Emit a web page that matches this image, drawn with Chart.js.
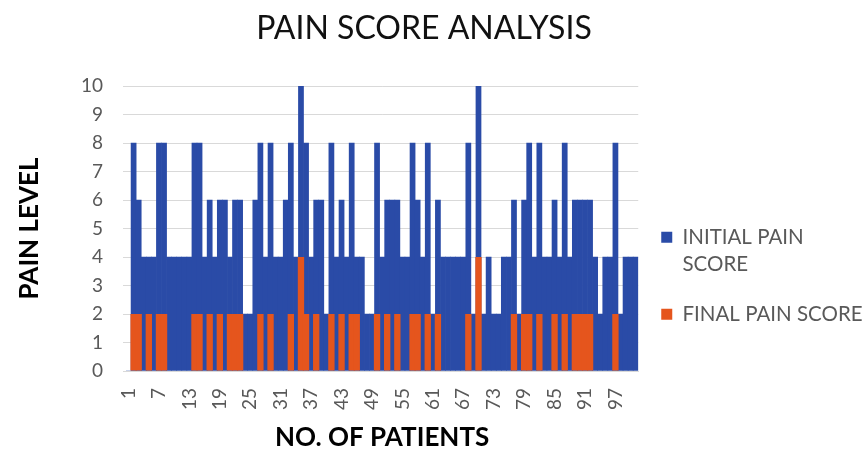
<!DOCTYPE html>
<html>
<head>
<meta charset="utf-8">
<script src="https://cdn.jsdelivr.net/npm/chart.js@4.4.1/dist/chart.umd.min.js"></script>
<style>
  html, body { margin: 0; padding: 0; background: #ffffff; }
  #wrap { width: 862px; height: 453px; }
</style>
</head>
<body>
<div id="wrap"><canvas id="chart" width="862" height="453"></canvas></div>
<script>
// Patient numbers along the category axis
const patients = [
  '1','2','3','4','5','6','7','8','9','10','11','12','13','14','15','16','17','18','19','20',
  '21','22','23','24','25','26','27','28','29','30','31','32','33','34','35','36','37','38','39','40',
  '41','42','43','44','45','46','47','48','49','50','51','52','53','54','55','56','57','58','59','60',
  '61','62','63','64','65','66','67','68','69','70','71','72','73','74','75','76','77','78','79','80',
  '81','82','83','84','85','86','87','88','89','90','91','92','93','94','95','96','97','98','99','100','101'
];

// Patient numbers that get a printed label
const tickLabels = ['1','7','13','19','25','31','37','43','49','55','61','67','73','79','85','91','97'];

// Pain level before treatment
const initialScore = [
  0, 8, 6, 4, 4, 4, 8, 8, 4, 4,
  4, 4, 4, 8, 8, 4, 6, 4, 6, 6,
  4, 6, 6, 2, 2, 6, 8, 4, 8, 4,
  4, 6, 8, 4, 10, 8, 4, 6, 6, 2,
  8, 4, 6, 4, 8, 4, 4, 2, 2, 8,
  4, 6, 6, 6, 4, 4, 8, 6, 4, 8,
  2, 6, 4, 4, 4, 4, 4, 8, 2, 10,
  2, 4, 2, 2, 4, 4, 6, 2, 6, 8,
  4, 8, 4, 4, 6, 4, 8, 4, 6, 6,
  6, 6, 4, 2, 4, 4, 8, 2, 4, 4,
  4
];

// Pain level after treatment
const finalScore = [
  0, 2, 2, 0, 2, 0, 2, 2, 0, 0,
  0, 0, 0, 2, 2, 0, 2, 0, 2, 0,
  2, 2, 2, 0, 0, 0, 2, 0, 2, 0,
  0, 0, 2, 0, 4, 2, 0, 2, 0, 0,
  2, 0, 2, 0, 2, 2, 0, 0, 0, 2,
  0, 2, 0, 2, 0, 0, 2, 2, 0, 2,
  0, 2, 0, 0, 0, 0, 0, 2, 0, 4,
  0, 0, 0, 0, 0, 0, 2, 0, 2, 2,
  0, 2, 0, 0, 2, 0, 2, 0, 2, 2,
  2, 2, 0, 0, 0, 0, 2, 0, 0, 0,
  0
];

const seriesNames = ['INITIAL PAIN SCORE', 'FINAL PAIN SCORE'];
const legendLines = [['INITIAL PAIN', 'SCORE'], 'FINAL PAIN SCORE'];

const BLUE = '#2A4BA7';
const ORANGE = '#E5551D';
const GRID = '#D9D9D9';
const LABEL = '#595959';
const FONT = 'Lato, "Open Sans", sans-serif';

// Title centred a little left of the canvas middle; legend text allowed to run to the canvas edge
const layoutTweaks = {
  id: 'layoutTweaks',
  afterLayout(chart) {
    if (chart.titleBlock) {
      chart.titleBlock.right = chart.titleBlock.left + 848;
    }
    if (chart.legend) {
      chart.legend.right = chart.width;
    }
  }
};

new Chart(document.getElementById('chart'), {
  type: 'bar',
  data: {
    labels: patients,
    datasets: [
      {
        label: seriesNames[0],
        data: initialScore,
        backgroundColor: BLUE,
        borderWidth: 0,
        grouped: false,
        barPercentage: 1,
        categoryPercentage: 1,
        order: 2
      },
      {
        label: seriesNames[1],
        data: finalScore,
        backgroundColor: ORANGE,
        borderWidth: 0,
        grouped: false,
        barPercentage: 1.25,
        categoryPercentage: 1,
        order: 1
      }
    ]
  },
  options: {
    responsive: false,
    animation: false,
    devicePixelRatio: 1,
    layout: { padding: { left: 0, right: 11, top: 0, bottom: 0 } },
    plugins: {
      title: {
        display: true,
        text: 'PAIN SCORE ANALYSIS',
        color: '#111111',
        font: { family: FONT, size: 32, weight: 'normal' },
        padding: { top: 9, bottom: 38.6 }
      },
      legend: {
        position: 'right',
        align: 'center',
        title: { display: true, text: '', font: { size: 12 }, padding: { top: 0, bottom: 84 } },
        labels: {
          boxWidth: 11,
          boxHeight: 11,
          padding: 23,
          color: LABEL,
          font: { family: FONT, size: 20.5, lineHeight: 27 / 20.5 },
          sort: (a, b) => a.datasetIndex - b.datasetIndex,
          generateLabels(chart) {
            const items = Chart.defaults.plugins.legend.labels.generateLabels(chart);
            items.forEach(it => { it.text = legendLines[it.datasetIndex]; it.lineWidth = 0; });
            return items;
          }
        }
      },
      tooltip: { enabled: false }
    },
    scales: {
      x: {
        grid: { display: false, drawTicks: false },
        border: { display: true, color: GRID },
        ticks: {
          autoSkip: false,
          maxRotation: 90,
          minRotation: 90,
          padding: 17,
          color: LABEL,
          font: { family: FONT, size: 19 },
          callback(value, index) {
            const lab = patients[index];
            return tickLabels.includes(lab) ? lab : '';
          }
        },
        title: {
          display: true,
          text: 'NO. OF PATIENTS',
          color: '#000000',
          font: { family: FONT, size: 26, weight: 'bold' },
          padding: { top: 0, bottom: 0 }
        },
        afterFit(scale) { scale.height = 82; }
      },
      y: {
        min: 0,
        max: 10,
        grid: { color: GRID, drawTicks: true, tickLength: 3, tickColor: GRID },
        border: { display: false },
        ticks: {
          stepSize: 1,
          padding: 20,
          color: LABEL,
          font: { family: FONT, size: 19 }
        },
        title: {
          display: true,
          text: 'PAIN LEVEL',
          color: '#000000',
          font: { family: FONT, size: 26, weight: 'bold' },
          padding: { top: 14, bottom: 0 }
        },
        afterFit(scale) { scale.width = 126; }
      }
    }
  },
  plugins: [layoutTweaks]
});
</script>
</body>
</html>
